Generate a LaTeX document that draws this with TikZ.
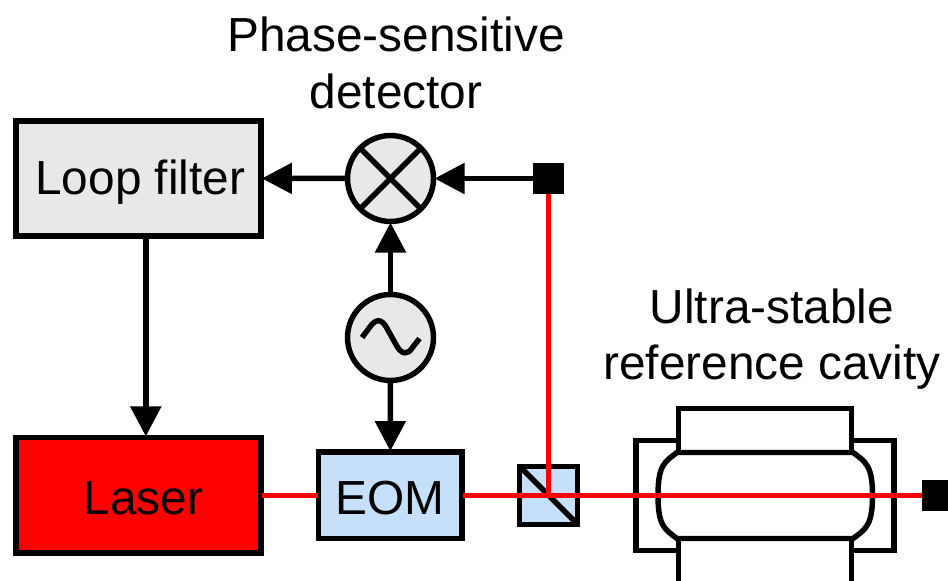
\documentclass[tikz,border=0pt]{standalone}
\usepackage{fontspec}
\setmainfont{Liberation Sans}
\usetikzlibrary{arrows.meta,positioning,calc}
\definecolor{boxgray}{HTML}{E8E8E8}
\definecolor{eomblue}{HTML}{C6E0FA}
\tikzstyle{blockbox} = [draw, rectangle, line width=1.55pt, align=center, inner sep=0pt, outer sep=0.3pt, text height=0.39cm, text depth=0cm, font=\fontsize{13.6}{16.1}\selectfont]
\tikzstyle{round} = [draw, circle, line width=1.55pt, minimum size=0.86cm, inner sep=0pt, outer sep=0.3pt, fill=boxgray]
\tikzstyle{stop} = [fill=black, rectangle, minimum size=0.31cm, inner sep=0pt, outer sep=0pt]
\tikzstyle{title} = [align=center, font=\fontsize{13.6}{16.1}\selectfont]
\tikzstyle{arr} = [draw, line width=1.55pt, -{Triangle[length=0.3cm,width=0.3cm]}]
\tikzstyle{beam} = [draw, line width=1.55pt, color=red]
\tikzstyle{wire} = [draw, line width=1.55pt]

\begin{document}
\begin{tikzpicture}
    \useasboundingbox (0,0) rectangle (9.48,-5.81);

    \node [title] (pd) at (3.96,-0.63) {Phase-sensitive\\detector};
    \node [title] (urc) at (7.72,-3.39) {Ultra-stable\\reference cavity};

    \node [blockbox, fill=boxgray, minimum width=2.45cm, minimum height=1.15cm, text height=0.42cm, text depth=0.1cm] (filter) at (1.383,-1.783) {\hspace{0.04cm}Loop filter};
    \node [blockbox, fill=red, minimum width=2.45cm, minimum height=1.157cm] (laser) at (1.383,-4.953) {\hspace{0.1cm}Laser};
    \node [blockbox, fill=eomblue, minimum width=1.433cm, minimum height=0.864cm] (eom) at (3.902,-4.953) {EOM};
    \node [blockbox, fill=eomblue, minimum size=0.58cm] (cube) at (5.485,-4.953) {};

    \node [round] (mix) at (3.905,-1.785) {};
    \node [round] (osc) at (3.905,-3.375) {};
    \node [stop] (det) at (5.485,-1.785) {};
    \node [stop] (end) at (9.375,-4.953) {};

    % cavity
    \draw [wire] (6.36,-4.405) rectangle (8.94,-5.505);
    \draw [wire, fill=white] (6.785,-4.085) rectangle (8.515,-4.525);
    \draw [wire, fill=white] (6.785,-5.385) rectangle (8.515,-5.90);
    \draw [wire, fill=white] (6.77,-4.525) -- (8.53,-4.525)
        .. controls (8.66,-4.62) and (8.725,-4.66) .. (8.725,-4.955)
        .. controls (8.725,-5.25) and (8.66,-5.29) .. (8.53,-5.385)
        -- (6.77,-5.385)
        .. controls (6.64,-5.29) and (6.58,-5.25) .. (6.58,-4.955)
        .. controls (6.58,-4.66) and (6.64,-4.62) .. (6.77,-4.525) -- cycle;

    \draw [wire] (mix.45) -- (mix.225);
    \draw [wire] (mix.135) -- (mix.315);
    \draw [wire] ($(osc)+(-0.285,0)$) -- ($(osc)+(-0.21,0.1)$) .. controls ($(osc)+(-0.15,0.19)$) and ($(osc)+(-0.09,0.19)$) .. ($(osc)+(-0.04,0.1)$)
        -- ($(osc)+(0.06,-0.08)$) .. controls ($(osc)+(0.11,-0.17)$) and ($(osc)+(0.17,-0.18)$) .. ($(osc)+(0.22,-0.1)$) -- ($(osc)+(0.29,-0.01)$);
    \draw [wire, shorten <=0.03cm, shorten >=0.03cm] (cube.north west) -- (cube.south east);

    \draw [beam] (laser) -- (eom);
    \draw [beam] (eom) -- (cube.center);
    \draw [beam] (cube.center) -- (end);
    \draw [beam] (cube.center) -- (det);

    \draw [arr] (det) -- (mix);
    \draw [arr] (mix) -- (filter);
    \draw [arr] (osc) -- (mix);
    \draw [arr] (osc) -- (eom);
    \draw [arr] ($(filter.south)+(0.075,0)$) -- ($(laser.north)+(0.075,0)$);
\end{tikzpicture}
\end{document}
